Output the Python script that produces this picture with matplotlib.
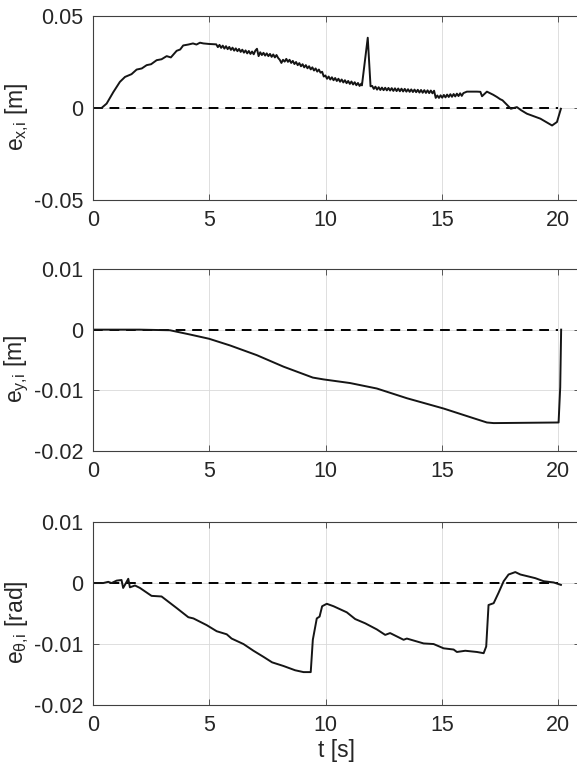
import numpy as np
import matplotlib
matplotlib.use("Agg")
import matplotlib.pyplot as plt

plt.rcParams['font.family'] = ['Liberation Sans', 'DejaVu Sans']
plt.rcParams['mathtext.fontset'] = 'custom'
plt.rcParams['mathtext.rm'] = 'Liberation Sans'
plt.rcParams['mathtext.it'] = 'Liberation Sans'

# e_x,i [m] -- start, chattering part (two blocks), end
t_x_start = [0.0, 0.37, 0.59, 0.88, 1.16, 1.38, 1.66, 1.88, 2.1, 2.31, 2.5, 2.74, 2.95,
             3.17, 3.35, 3.6, 3.75, 3.88, 4.1, 4.3, 4.45, 4.6, 4.75, 5.0, 5.25]
e_x_start = [0.0, 0.0, 0.0024, 0.0087, 0.0142, 0.0169, 0.0184, 0.0209, 0.0215, 0.0233,
             0.0238, 0.026, 0.0265, 0.0282, 0.0275, 0.0311, 0.0318, 0.034, 0.0345,
             0.0351, 0.0345, 0.0355, 0.0351, 0.0348, 0.0346]

t_x_a = np.round(5.30 + 0.07 * np.arange(90), 2)
e_x_a = [0.0346, 0.0331, 0.0343, 0.0327, 0.0339, 0.0323, 0.0336, 0.0320, 0.0332, 0.0316,
         0.0328, 0.0312, 0.0324, 0.0309, 0.0321, 0.0305, 0.0317, 0.0301, 0.0313, 0.0297,
         0.0310, 0.0294, 0.0307, 0.0292, 0.0312, 0.0322, 0.0282, 0.0303, 0.0288, 0.0300,
         0.0285, 0.0297, 0.0282, 0.0294, 0.0278, 0.0291, 0.0275, 0.0288, 0.0272, 0.0262,
         0.0245, 0.0262, 0.0252, 0.0267, 0.0251, 0.0262, 0.0245, 0.0256, 0.0239, 0.0250,
         0.0233, 0.0244, 0.0227, 0.0238, 0.0221, 0.0233, 0.0216, 0.0227, 0.0210, 0.0221,
         0.0204, 0.0215, 0.0198, 0.0209, 0.0192, 0.0197, 0.0171, 0.0177, 0.0159, 0.0171,
         0.0155, 0.0167, 0.0151, 0.0163, 0.0147, 0.0159, 0.0143, 0.0155, 0.0139, 0.0151,
         0.0135, 0.0147, 0.0131, 0.0144, 0.0128, 0.0140, 0.0124, 0.0136, 0.0120, 0.0132]

t_x_spike = [11.56, 11.81, 11.93]
e_x_spike = [0.0123, 0.0382, 0.0118]

t_x_b = np.round(12.00 + 0.07 * np.arange(57), 2)
e_x_b = [0.0120, 0.0104, 0.0116, 0.0100, 0.0113, 0.0098, 0.0111, 0.0097, 0.0110, 0.0096,
         0.0109, 0.0095, 0.0108, 0.0093, 0.0107, 0.0092, 0.0106, 0.0091, 0.0105, 0.0090,
         0.0104, 0.0089, 0.0102, 0.0088, 0.0101, 0.0087, 0.0100, 0.0086, 0.0099, 0.0084,
         0.0098, 0.0083, 0.0097, 0.0082, 0.0096, 0.0081, 0.0095, 0.0080, 0.0094, 0.0055,
         0.0068, 0.0055, 0.0069, 0.0056, 0.0071, 0.0058, 0.0073, 0.0060, 0.0075, 0.0061,
         0.0076, 0.0063, 0.0078, 0.0065, 0.0080, 0.0066, 0.0081]

t_x_end = [16.07, 16.5, 16.65, 16.72, 16.93, 17.1, 17.2, 17.36, 17.5, 17.6, 17.79, 17.96,
           18.22, 18.4, 18.65, 19.23, 19.73, 19.94, 20.11]
e_x_end = [0.0089, 0.0089, 0.0088, 0.0064, 0.0089, 0.0078, 0.0072, 0.006, 0.0048, 0.0042,
           0.0018, -0.0004, 0.0005, -0.0012, -0.0031, -0.0058, -0.0095, -0.0076, -0.0004]

t_x = np.concatenate([t_x_start, t_x_a, t_x_spike, t_x_b, t_x_end])
e_x = np.concatenate([e_x_start, e_x_a, e_x_spike, e_x_b, e_x_end])

# e_y,i [m]
t_y = [0.0, 2.0, 3.31, 4.17, 4.99, 5.89, 7.04, 8.19, 9.45, 9.91, 11.05, 12.2, 13.49,
       15.07, 16.36, 16.93, 17.22, 20.01, 20.08, 20.12]
e_y = [0.0, 0.0, -0.0001, -0.0008, -0.0015, -0.0026, -0.0042, -0.0061, -0.0079,
       -0.0082, -0.0088, -0.0097, -0.0113, -0.013, -0.0146, -0.0153, -0.0154,
       -0.0153, -0.0095, 0.0]

# e_theta,i [rad]
t_th = [0.0, 0.44, 0.66, 0.8, 1.02, 1.23, 1.3, 1.42, 1.52, 1.59, 1.81, 2.02, 2.52,
        2.95, 3.6, 4.1, 4.32, 4.89, 5.32, 5.75, 5.96, 6.47, 6.9, 7.33, 7.7, 8.19,
        8.69, 9.05, 9.36, 9.45, 9.62, 9.74, 9.85, 10.05, 10.34, 10.91, 11.27, 11.7,
        12.2, 12.56, 12.77, 13.35, 13.49, 14.21, 14.64, 15.07, 15.5, 15.64, 16.0,
        16.5, 16.79, 16.9, 17.0, 17.22, 17.43, 17.65, 17.86, 18.15, 18.37, 18.8,
        19.01, 19.37, 19.8, 20.11]
e_th = [0.0, 0.0, 0.0002, 0.0, 0.0004, 0.0005, -0.0008, 0.0, 0.0007, -0.0007,
        -0.0004, -0.0008, -0.0021, -0.0022, -0.0041, -0.0056, -0.0058, -0.0069,
        -0.0079, -0.0084, -0.0091, -0.01, -0.0111, -0.0121, -0.013, -0.0136, -0.0143,
        -0.0146, -0.0146, -0.0093, -0.0058, -0.0055, -0.0038, -0.0034, -0.0038,
        -0.0048, -0.0059, -0.0066, -0.0076, -0.0085, -0.0082, -0.0093, -0.0091,
        -0.0099, -0.01, -0.0107, -0.0109, -0.0113, -0.0111, -0.0113, -0.0115,
        -0.0104, -0.0036, -0.0033, -0.0016, 0.0003, 0.0014, 0.0018, 0.0014, 0.001,
        0.0008, 0.0003, 0.0001, -0.0003]

ref_t = [0, 20]
ref_v = [0, 0]

panels = [
    (t_x, e_x, [-0.05, 0, 0.05], ['-0.05', '0', '0.05'], (-0.05, 0.05),
     r'e$_{x,\!i}$ [m]', [0.161, 0.7416, 0.845, 0.2377]),
    (t_y, e_y, [-0.02, -0.01, 0, 0.01], ['-0.02', '-0.01', '0', '0.01'], (-0.02, 0.01),
     r'e$_{y,\!i}$ [m]', [0.161, 0.4173, 0.845, 0.2352]),
    (t_th, e_th, [-0.02, -0.01, 0, 0.01], ['-0.02', '-0.01', '0', '0.01'], (-0.02, 0.01),
     r'e$_{\theta,\!i}$ [rad]', [0.161, 0.0891, 0.845, 0.2364]),
]

fig = plt.figure(figsize=(5.77, 7.74), dpi=100)
axc = '#404040'

for i, (t, v, yt, ytl, ylim, ylab, pos) in enumerate(panels):
    ax = fig.add_axes(pos)
    ax.plot(ref_t, ref_v, color='black', linestyle=(0, (5, 3.5)), linewidth=1.4)
    ax.plot(t, v, color='#151515', linewidth=1.4)
    ax.set_xlim(0, 20.95)
    ax.set_ylim(*ylim)
    ax.set_xticks([0, 5, 10, 15, 20])
    ax.set_yticks(yt)
    ax.set_yticklabels(ytl)
    ax.grid(True, color='#d9d9d9', linewidth=0.6)
    ax.set_axisbelow(True)
    ax.tick_params(direction='in', length=4, width=0.6, colors=axc,
                   labelcolor='#262626', labelsize=15.5, top=True, right=True, pad=7)
    for s in ax.spines.values():
        s.set_color(axc)
        s.set_linewidth(0.8)
    ax.set_ylabel(ylab, fontsize=16.5, color='#262626')
    ax.yaxis.set_label_coords(-0.127, 0.45)
    if i == 2:
        ax.set_xlabel('t [s]', fontsize=16.5, color='#262626', labelpad=2)

fig.savefig('out.png', dpi=100)
